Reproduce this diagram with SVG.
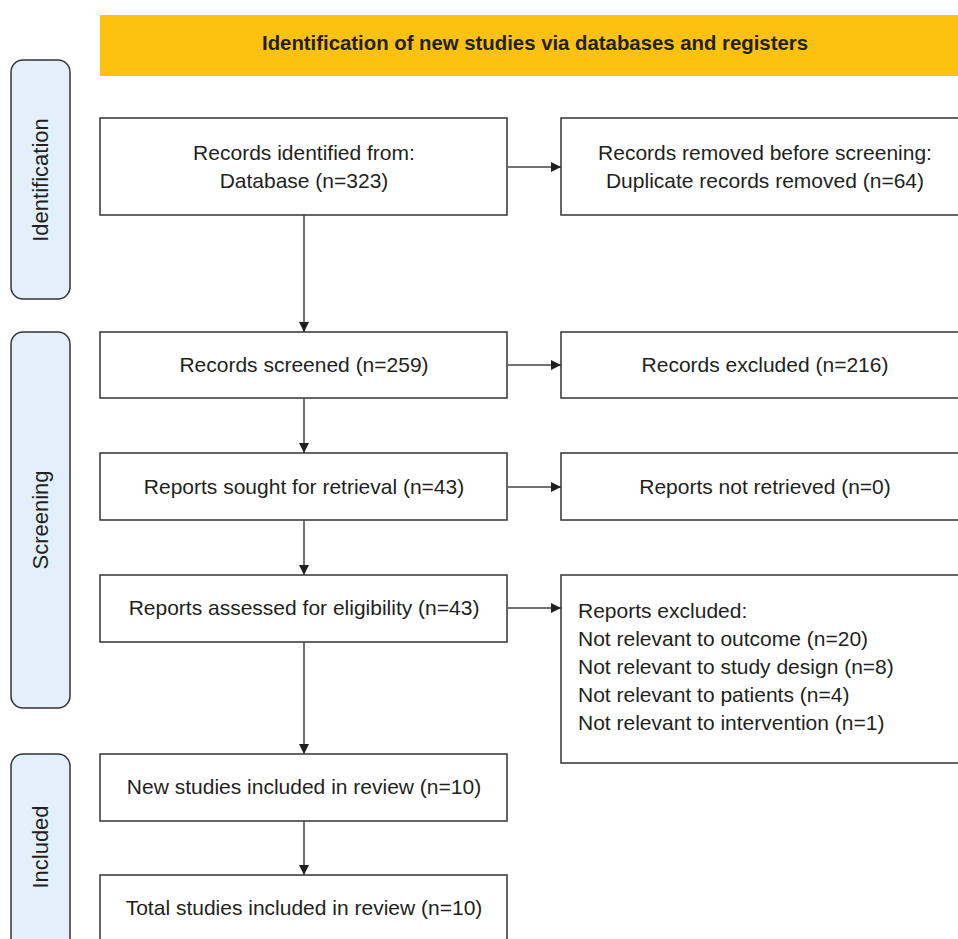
<svg xmlns="http://www.w3.org/2000/svg" width="958" height="939" viewBox="0 0 958 939">
<style>
.box{fill:#fff;stroke:#333;stroke-width:1.5}
.side{fill:#e3f0fb;stroke:#333;stroke-width:1.5}
.t{font-family:"Liberation Sans","Noto Sans",sans-serif;font-size:21px;fill:#231f20}
.s{font-size:22px}
.c{text-anchor:middle}
.conn{stroke:#444;stroke-width:1.5;fill:none;marker-end:url(#ah)}
</style>
<defs>
<marker id="ah" markerWidth="10" markerHeight="10" refX="10" refY="5" orient="auto" markerUnits="userSpaceOnUse">
<path d="M0,0 L10,5 L0,10 z" fill="#231f20"/>
</marker>
</defs>
<rect width="958" height="939" fill="#fff"/>
<g id="banner">
<rect x="100" y="15" width="858" height="61" fill="#fdc210"/>
<text x="535" y="50" class="t c" font-weight="bold" font-size="19" textLength="546" lengthAdjust="spacingAndGlyphs">Identification of new studies via databases and registers</text>
</g>
<g id="lbl-identification">
<rect class="side" x="11" y="60" width="59" height="239" rx="12"/>
<text class="t s c" transform="translate(48,180) rotate(-90)">Identification</text>
</g>
<g id="lbl-screening">
<rect class="side" x="11" y="332" width="59" height="376" rx="12"/>
<text class="t s c" transform="translate(48,520) rotate(-90)">Screening</text>
</g>
<g id="lbl-included">
<rect class="side" x="11" y="754" width="59" height="200" rx="12"/>
<text class="t s c" transform="translate(48,847) rotate(-90)">Included</text>
</g>
<g id="n-identified">
<rect class="box" x="100" y="118" width="407" height="97"/>
<text class="t c" x="304" y="160">Records identified from:</text>
<text class="t c" x="304" y="188">Database (n=323)</text>
</g>
<g id="n-removed">
<rect class="box" x="561" y="118" width="410" height="97"/>
<text class="t c" x="765" y="160">Records removed before screening:</text>
<text class="t c" x="765" y="188">Duplicate records removed (n=64)</text>
</g>
<g id="n-screened">
<rect class="box" x="100" y="332" width="407" height="66"/>
<text class="t c" x="304" y="372">Records screened (n=259)</text>
</g>
<g id="n-excluded">
<rect class="box" x="561" y="332" width="410" height="66"/>
<text class="t c" x="765" y="372">Records excluded (n=216)</text>
</g>
<g id="n-sought">
<rect class="box" x="100" y="453" width="407" height="67"/>
<text class="t c" x="304" y="494">Reports sought for retrieval (n=43)</text>
</g>
<g id="n-notretrieved">
<rect class="box" x="561" y="453" width="410" height="67"/>
<text class="t c" x="765" y="494">Reports not retrieved (n=0)</text>
</g>
<g id="n-assessed">
<rect class="box" x="100" y="575" width="407" height="67"/>
<text class="t c" x="304" y="615">Reports assessed for eligibility (n=43)</text>
</g>
<g id="n-reportsexcluded">
<rect class="box" x="561" y="575" width="410" height="188"/>
<text class="t" x="578" y="618">Reports excluded:</text>
<text class="t" x="578" y="646">Not relevant to outcome (n=20)</text>
<text class="t" x="578" y="674">Not relevant to study design (n=8)</text>
<text class="t" x="578" y="702">Not relevant to patients (n=4)</text>
<text class="t" x="578" y="730">Not relevant to intervention (n=1)</text>
</g>
<g id="n-new">
<rect class="box" x="100" y="754" width="407" height="67"/>
<text class="t c" x="304" y="794">New studies included in review (n=10)</text>
</g>
<g id="n-total">
<rect class="box" x="100" y="875" width="407" height="80"/>
<text class="t c" x="304" y="915">Total studies included in review (n=10)</text>
</g>
<g id="connectors">
<line class="conn" x1="508" y1="167" x2="561" y2="167"/>
<line class="conn" x1="508" y1="365" x2="561" y2="365"/>
<line class="conn" x1="508" y1="487" x2="561" y2="487"/>
<line class="conn" x1="508" y1="608" x2="561" y2="608"/>
<line class="conn" x1="304" y1="215" x2="304" y2="332"/>
<line class="conn" x1="304" y1="398" x2="304" y2="453"/>
<line class="conn" x1="304" y1="520" x2="304" y2="575"/>
<line class="conn" x1="304" y1="642" x2="304" y2="754"/>
<line class="conn" x1="304" y1="821" x2="304" y2="875"/>
</g>
</svg>
